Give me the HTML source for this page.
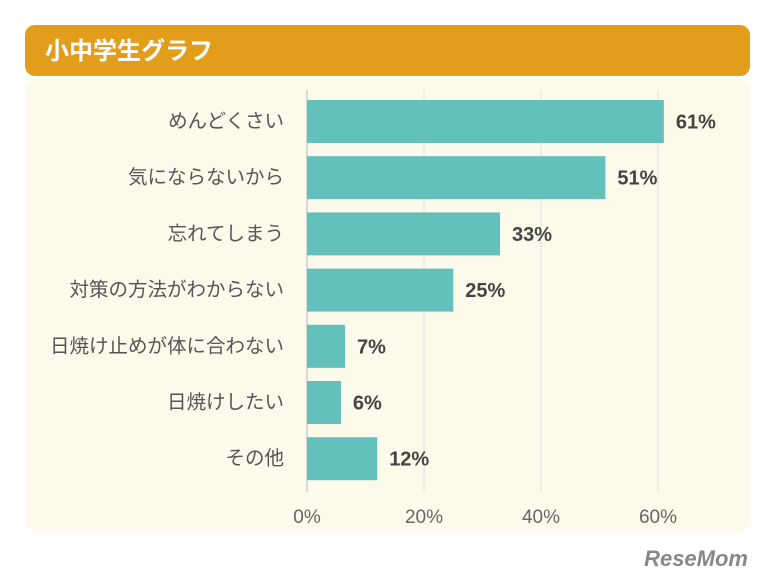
<!DOCTYPE html>
<html><head><meta charset="utf-8"><style>
body{margin:0;background:#fff;}
svg{display:block;font-family:"Liberation Sans","Noto Sans CJK JP",sans-serif;}
</style></head><body>
<svg id="c" width="775" height="583" xmlns="http://www.w3.org/2000/svg">
<rect x="25" y="25" width="725" height="51" rx="10" fill="#E29E1A"/>
<text x="45" y="59" font-size="24" font-weight="bold" fill="#fff">小中学生グラフ</text>
<rect x="25" y="78" width="725" height="454" rx="12" fill="#FCFAEA"/>
<g id="grid"></g><g id="bars"></g><g id="labels"></g>
<text x="748" y="566" font-size="22" font-weight="bold" fill="#888" text-anchor="end" font-style="italic">ReseMom</text>
</svg>
<script>
const categories=["めんどくさい","気にならないから","忘れてしまう","対策の方法がわからない","日焼け止めが体に合わない","日焼けしたい","その他"];
const values=[61,51,33,25,6.5,5.8,12];
const ticks=[0,20,40,60];
const NS="http://www.w3.org/2000/svg";
const x=v=>307+v*5.85;
const y=i=>100+i*56.2;
const bh=43;
function mk(t,a,p){const e=document.createElementNS(NS,t);for(const k in a)e.setAttribute(k,a[k]);p.appendChild(e);return e;}
const g=document.getElementById('grid'),b=document.getElementById('bars'),l=document.getElementById('labels');
ticks.forEach(t=>{
 const ln=mk('line',{x1:x(t),x2:x(t),y1:90,y2:492,stroke:t===0?'#ccc':'#ddd','stroke-width':t===0?1.5:1},g);
 
 
 const tx=mk('text',{x:x(t),y:523,'font-size':19,fill:'#666','text-anchor':'middle'},g);
 tx.textContent=t+'%';
 
 
});
categories.forEach((c,i)=>{
 const r=mk('rect',{x:x(0),y:y(i),width:x(values[i])-x(0),height:bh,fill:'#62C1BB'},b);
 
 
 const v=mk('text',{x:x(values[i])+12,y:y(i)+bh/2+7,'font-size':20,'font-weight':'bold',fill:'#444'},l);
 v.textContent=Math.round(values[i])+'%';
 
 
 const ct=mk('text',{x:284,y:y(i)+bh/2+6,'font-size':19.5,fill:'#555','text-anchor':'end'},l);
 ct.textContent=c;
 
 
});
</script>
</body></html>
